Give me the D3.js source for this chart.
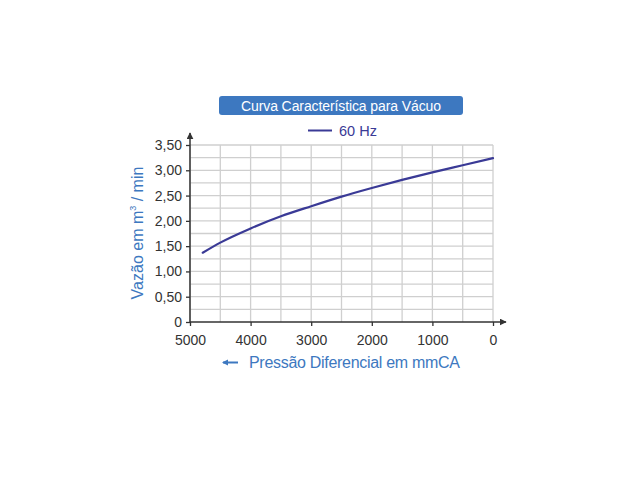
<!DOCTYPE html>
<html>
<head>
<meta charset="utf-8">
<script src="https://cdn.jsdelivr.net/npm/d3@7"></script>
<style>
  body { margin: 0; background: #fff; }
  svg { font-family: "Liberation Sans", Arial, sans-serif; }
</style>
</head>
<body>
<script>
// pressure (mmCA) and flow (m3/min)
const pressure = [4790, 4500, 4000, 3500, 3000, 2500, 2000, 1500, 1000, 500, 0];
const flow = [1.37, 1.57, 1.85, 2.09, 2.29, 2.48, 2.65, 2.81, 2.96, 3.10, 3.24];
const xTicks = [5000, 4000, 3000, 2000, 1000, 0];
const yTicks = [0, 0.5, 1, 1.5, 2, 2.5, 3, 3.5];

const width = 640, height = 480;
const margin = { left: 190, right: 147, top: 145, bottom: 158 };

const blue = "#3d78c0";
const lineBlue = "#3a3a96";

const svg = d3.select("body").append("svg")
  .attr("width", width)
  .attr("height", height);

const x = d3.scaleLinear().domain([5000, 0]).range([margin.left, width - margin.right]);
const y = d3.scaleLinear().domain([0, 3.5]).range([height - margin.bottom, margin.top]);

// grid
const grid = svg.append("g").attr("stroke", "#cfcfcf").attr("stroke-width", 1.3);
grid.selectAll("line.v")
  .data(d3.range(0, 5001, 500))
  .join("line")
  .attr("x1", (d) => x(d)).attr("x2", (d) => x(d))
  .attr("y1", y(0)).attr("y2", y(3.5));
grid.selectAll("line.h")
  .data(d3.range(0.25, 3.51, 0.25))
  .join("line")
  .attr("x1", x(5000)).attr("x2", x(0))
  .attr("y1", (d) => y(d)).attr("y2", (d) => y(d));

// axes
const xAxis = svg.append("g")
  .attr("transform", `translate(0,${y(0)})`)
  .call(d3.axisBottom(x).tickValues(xTicks).tickSize(4).tickPadding(9).tickFormat(d3.format("d")));
const yAxis = svg.append("g")
  .attr("transform", `translate(${x(5000)},0)`)
  .call(d3.axisLeft(y).tickValues(yTicks).tickSize(4).tickPadding(4)
    .tickFormat((d) => d === 0 ? "0" : d3.format(".2f")(d).replace(".", ",")));

[xAxis, yAxis].forEach((g) => {
  g.select(".domain").remove();
  g.selectAll("line").attr("stroke", "#333").attr("stroke-width", 1.3);
  g.selectAll("text").attr("fill", "#333").attr("font-size", 14).attr("font-family", null);
});

// axis lines with arrows
svg.append("defs").append("marker")
  .attr("id", "arrow")
  .attr("viewBox", "0 0 10 10")
  .attr("refX", 9).attr("refY", 5)
  .attr("markerWidth", 7).attr("markerHeight", 7)
  .attr("markerUnits", "userSpaceOnUse")
  .attr("orient", "auto")
  .append("path").attr("d", "M0,0L10,5L0,10z").attr("fill", "#333");

svg.append("line")
  .attr("x1", x(5000)).attr("x2", x(0) + 13)
  .attr("y1", y(0)).attr("y2", y(0))
  .attr("stroke", "#333").attr("stroke-width", 1.5)
  .attr("marker-end", "url(#arrow)");
svg.append("line")
  .attr("x1", x(5000)).attr("x2", x(5000))
  .attr("y1", y(0)).attr("y2", y(3.5) - 12)
  .attr("stroke", "#333").attr("stroke-width", 1.5)
  .attr("marker-end", "url(#arrow)");

// curve
svg.append("path")
  .datum(pressure.map((p, i) => [p, flow[i]]))
  .attr("fill", "none")
  .attr("stroke", lineBlue)
  .attr("stroke-width", 2.2)
  .attr("stroke-linecap", "round")
  .attr("d", d3.line().x((d) => x(d[0])).y((d) => y(d[1])).curve(d3.curveMonotoneX));

// title box
svg.append("rect")
  .attr("x", 219).attr("y", 96)
  .attr("width", 244).attr("height", 19)
  .attr("rx", 3)
  .attr("fill", blue);
svg.append("text")
  .attr("x", 341).attr("y", 110.5)
  .attr("text-anchor", "middle")
  .attr("fill", "#fff")
  .attr("font-size", 14)
  .attr("textLength", 200)
  .text("Curva Característica para Vácuo");

// legend
svg.append("line")
  .attr("x1", 308).attr("x2", 332)
  .attr("y1", 130.5).attr("y2", 130.5)
  .attr("stroke", lineBlue).attr("stroke-width", 2);
svg.append("text")
  .attr("x", 339).attr("y", 135.5)
  .attr("fill", lineBlue)
  .attr("font-size", 14.5)
  .text("60 Hz");

// x axis title
svg.append("line")
  .attr("x1", 238).attr("x2", 223)
  .attr("y1", 362.5).attr("y2", 362.5)
  .attr("stroke", blue).attr("stroke-width", 2);
svg.append("path")
  .attr("d", "M222,362.5L228,359.5L228,365.5z")
  .attr("fill", blue);
svg.append("text")
  .attr("x", 249).attr("y", 368)
  .attr("fill", blue)
  .attr("font-size", 16)
  .attr("textLength", 211)
  .text("Pressão Diferencial em mmCA");

// y axis title
const yt = svg.append("text")
  .attr("transform", "translate(143,233) rotate(-90)")
  .attr("text-anchor", "middle")
  .attr("fill", blue)
  .attr("font-size", 16);
yt.append("tspan").text("Vazão em m");
yt.append("tspan").attr("font-size", 9).attr("dy", -7).text("3");
yt.append("tspan").attr("dy", 7).text(" / min");
</script>
</body>
</html>
